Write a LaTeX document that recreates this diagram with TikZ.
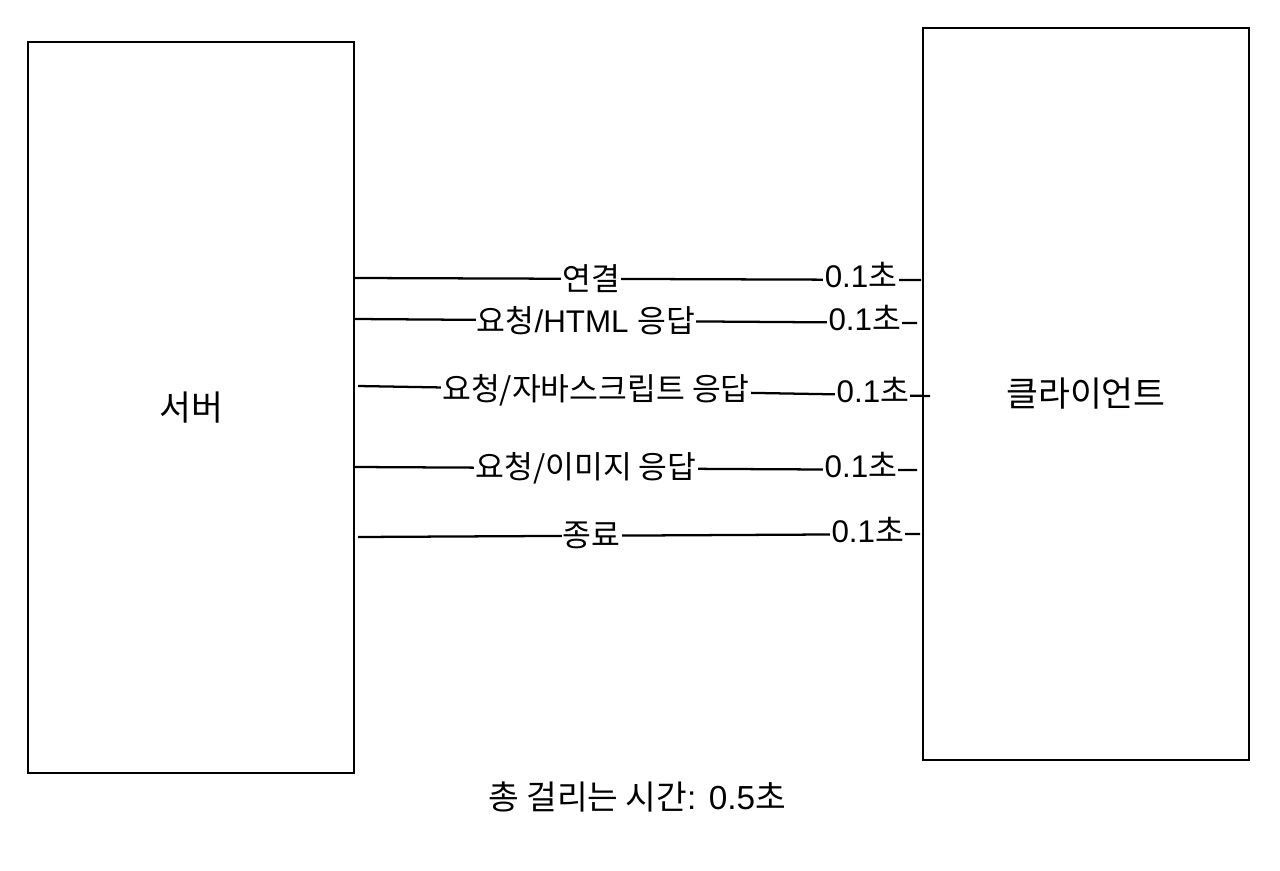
\documentclass[tikz,border=0pt]{standalone}
\usepackage{fontspec}
\setmainfont{Liberation Sans}
\newfontfamily\hangulfont{Noto Sans CJK KR}
\newcommand\hg[1]{{\hangulfont #1}}
\begin{document}
\begin{tikzpicture}[x=0.75pt,y=-0.75pt,
  box/.style={draw, line width=1.7pt, inner sep=0pt, font=\fontsize{26}{30}\selectfont},
  conn/.style={line width=1.7pt},
  lbl/.style={fill=white, inner sep=1pt, font=\fontsize{23.5}{27}\selectfont},
  tlbl/.style={fill=white, inner sep=1pt, font=\fontsize{23.5}{27}\selectfont, yshift=3.5pt}]
\useasboundingbox (0,0) rectangle (1280,870);
\node[box, minimum width=244.5pt, minimum height=548.25pt] (server) at (191,407.5) {\hg{서버}};
\node[box, minimum width=244.5pt, minimum height=549pt] (client) at (1086,394) {\hg{클라이언트}};
\coordinate (s1) at (355,278);
\coordinate (c1) at (921,280);
\coordinate (s2) at (355,319);
\coordinate (c2) at (917,323);
\coordinate (s3) at (358,386);
\coordinate (c3) at (930,396);
\coordinate (s4) at (355,467);
\coordinate (c4) at (917,470);
\coordinate (s5) at (358,537);
\coordinate (c5) at (920,534);
\draw[conn] (s1) -- node[lbl, pos=.417] (l1) {\hg{연결}} node[tlbl, pos=.894] (t1) {0.1\hg{초}} (c1);
\draw[conn] (s2) -- node[lbl, pos=.411] (l2) {\hg{요청}/HTML \hg{응답}} node[tlbl, pos=.907] (t2) {0.1\hg{초}} (c2);
\draw[conn] (s3) -- node[lbl, pos=.416] (l3) {\hg{요청/자바스크립트 응답}} node[tlbl, pos=.900] (t3) {0.1\hg{초}} (c3);
\draw[conn] (s4) -- node[lbl, pos=.411] (l4) {\hg{요청/이미지 응답}} node[tlbl, pos=.900] (t4) {0.1\hg{초}} (c4);
\draw[conn] (s5) -- node[lbl, pos=.416] (l5) {\hg{종료}} node[tlbl, pos=.907] (t5) {0.1\hg{초}} (c5);
\node[font=\fontsize{25}{29}\selectfont] (total) at (637,797) {\hg{총 걸리는 시간}: 0.5\hg{초}};
\end{tikzpicture}
\end{document}
